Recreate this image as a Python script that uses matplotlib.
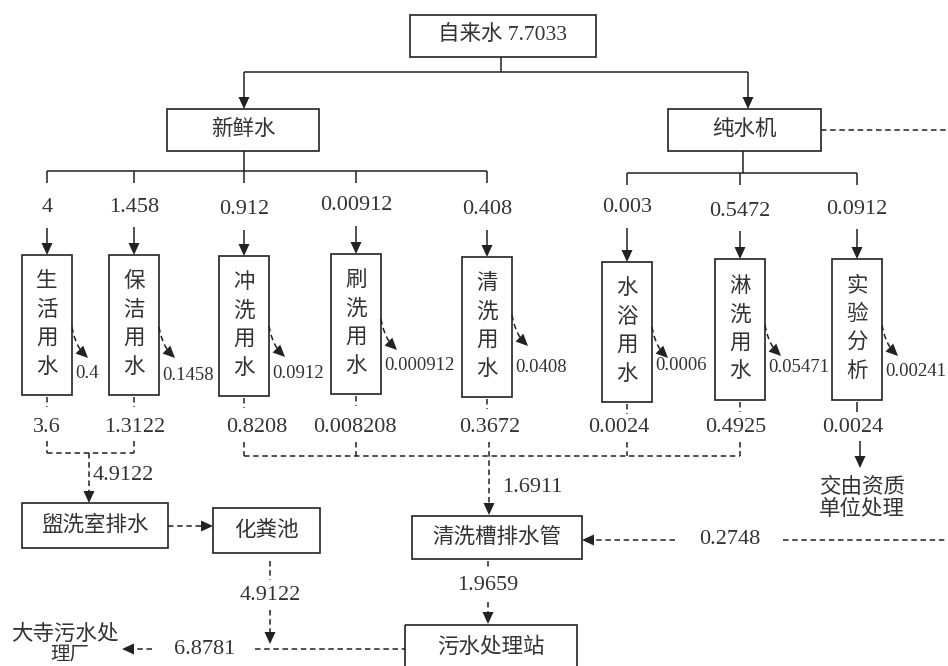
import matplotlib.pyplot as plt
from matplotlib.patches import Rectangle, Polygon
import numpy as np

# flow values (t/d)
tap_total = 7.7033
fresh_names = ["生活用水", "保洁用水", "冲洗用水", "刷洗用水", "清洗用水"]
fresh_in = [4, 1.458, 0.912, 0.00912, 0.408]
fresh_loss = [0.4, 0.1458, 0.0912, 0.000912, 0.0408]
fresh_out = [3.6, 1.3122, 0.8208, 0.008208, 0.3672]
pure_names = ["水浴用水", "淋洗用水", "实验分析"]
pure_in = [0.003, 0.5472, 0.0912]
pure_loss = [0.0006, 0.05471, 0.00241]
pure_out = [0.0024, 0.4925, 0.0024]
washroom_in = 4.9122
septic_out = 4.9122
tank_in = 1.6911
tank_return = 0.2748
tank_out = 1.9659
discharge = 6.8781

FONT = ["Liberation Serif", "Noto Sans CJK SC", "DejaVu Sans"]
TXT = "#333333"
LN = "#222222"
DASH = (0, (3.6, 2.4))

fig = plt.figure(figsize=(9.48, 6.66), dpi=100)
ax = fig.add_axes([0, 0, 1, 1])
ax.set_xlim(0, 948)
ax.set_ylim(666, 0)
ax.axis("off")


def fmt(v):
    return f"{v:g}"


def text(x, y, s, size=15.5, ha="center"):
    ax.text(x, y, s, ha=ha, va="center", fontsize=size, family=FONT, color=TXT)


def line(xs, ys, dashed=False):
    ax.plot(xs, ys, color=LN, lw=1.1, ls=DASH if dashed else "-",
            solid_capstyle="butt")


def head(x0, y0, x1, y1, length=12, half=5.5):
    d = np.array([x1 - x0, y1 - y0], float)
    d /= np.hypot(*d)
    n = np.array([-d[1], d[0]])
    tip = np.array([x1, y1])
    base = tip - d * length
    ax.add_patch(Polygon([tip, base + n * half, base - n * half],
                         closed=True, color=LN, lw=0))


def arrow(x0, y0, x1, y1, dashed=False):
    d = np.array([x1 - x0, y1 - y0], float)
    d /= np.hypot(*d)
    line([x0, x1 - d[0] * 8], [y0, y1 - d[1] * 8], dashed)
    head(x0, y0, x1, y1)


def box(x0, y0, x1, y1, label=None, size=15.5):
    ax.add_patch(Rectangle((x0, y0), x1 - x0, y1 - y0, fill=False,
                           ec=LN, lw=1.2))
    if label:
        text((x0 + x1) / 2, (y0 + y1) / 2, label, size)


def vbox(cx, top, bot, label):
    box(cx - 25, top, cx + 25, bot)
    mid = (top + bot) / 2
    for i, ch in enumerate(label):
        text(cx, mid + (i - 1.5) * 28.5, ch)


def side_loss(x_right, y_start, value, lx, ly):
    t = np.linspace(0, 1, 20)
    p0 = np.array([x_right, y_start])
    p2 = np.array([x_right + 16, y_start + 31])
    p1 = np.array([x_right + 4, y_start + 22])
    pts = ((1 - t)[:, None] ** 2 * p0 + 2 * ((1 - t) * t)[:, None] * p1
           + (t ** 2)[:, None] * p2)
    line(pts[:-4, 0], pts[:-4, 1], dashed=True)
    head(pts[-6, 0], pts[-6, 1], p2[0], p2[1], length=12, half=5.5)
    text(lx, ly, fmt(value), size=13.5, ha="left")


# top source
box(410, 15, 596, 57, f"自来水 {fmt(tap_total)}")
line([501, 501], [57, 72])
line([244, 748], [72, 72])
arrow(244, 72, 244, 109)
arrow(748, 72, 748, 109)
box(167, 109, 319, 151, "新鲜水")
box(668, 109, 821, 151, "纯水机")
line([821, 948], [130, 130], dashed=True)

# branches
fresh_x = [47, 134, 244, 356, 487]
fresh_top = [255, 255, 256, 254, 257]
fresh_bot = [395, 395, 396, 394, 397]
fresh_in_y = [208, 207, 210, 206, 210]
fresh_side_y = [327, 327, 326, 319, 315]
fresh_loss_y = [373, 376, 373, 365, 367]
fresh_out_x = [47, 135, 257, 355, 490]

pure_x = [627, 740, 857]
pure_top = [262, 259, 259]
pure_bot = [402, 400, 400]
pure_in_y = [208, 211, 209]
pure_side_y = [327, 325, 325]
pure_loss_y = [365, 367, 372]
pure_out_x = [619, 736, 853]

line([244, 244], [151, 171])
line([fresh_x[0], fresh_x[-1]], [171, 171])
line([743, 743], [151, 173])
line([pure_x[0], pure_x[-1]], [173, 173])

for xs, tops, bots, iny, sy, ly, ox, names, vin, vloss, vout, ybar in [
    (fresh_x, fresh_top, fresh_bot, fresh_in_y, fresh_side_y, fresh_loss_y,
     fresh_out_x, fresh_names, fresh_in, fresh_loss, fresh_out, 171),
    (pure_x, pure_top, pure_bot, pure_in_y, pure_side_y, pure_loss_y,
     pure_out_x, pure_names, pure_in, pure_loss, pure_out, 173)]:
    for i, cx in enumerate(xs):
        line([cx, cx], [ybar, ybar + 12])
        text(cx, iny[i], fmt(vin[i]), size=16)
        arrow(cx, iny[i] + 20, cx, tops[i])
        vbox(cx, tops[i], bots[i], names[i])
        side_loss(cx + 25, sy[i], vloss[i], cx + 28, ly[i])
        last = names[i] == "实验分析"
        line([cx, cx], [bots[i] + 2, bots[i] + 12], dashed=not last)
        text(ox[i], 428, fmt(vout[i]), size=16)

# left collector -> washroom drain
line([47, 47], [441, 453], dashed=True)
line([134, 134], [441, 453], dashed=True)
line([47, 134], [453, 453], dashed=True)
arrow(89, 453, 89, 503, dashed=True)
text(93, 475, fmt(washroom_in), size=16, ha="left")

# middle collector -> cleaning tank drain
for cx in [244, 356, 627, 740]:
    line([cx, cx], [442, 456], dashed=True)
line([244, 740], [456, 456], dashed=True)
arrow(489, 442, 489, 515, dashed=True)
text(502, 488, fmt(tank_in), size=16, ha="left")

# lab waste
arrow(860, 441, 860, 468)
text(862, 488, "交由资质")
text(862, 510, "单位处理")

# washroom -> septic tank
box(22, 503, 168, 548, "盥洗室排水")
arrow(168, 526, 213, 526, dashed=True)
box(213, 508, 320, 553, "化粪池")
line([270, 270], [561, 580], dashed=True)
text(270, 595, fmt(septic_out), size=16)
arrow(270, 610, 270, 644, dashed=True)

# cleaning tank drain
box(412, 516, 582, 559, "清洗槽排水管")
arrow(675, 540, 582, 540, dashed=True)
text(730, 540, fmt(tank_return), size=16)
line([783, 948], [540, 540], dashed=True)
line([488, 488], [561, 570], dashed=True)
text(488, 585, fmt(tank_out), size=16)
arrow(488, 602, 488, 624, dashed=True)

# treatment station and discharge
box(405, 625, 577, 700, None)
text(491, 648, "污水处理站")
line([255, 405], [649, 649], dashed=True)
text(205, 649, fmt(discharge), size=16)
arrow(152, 649, 122, 649, dashed=True)
text(65, 635, "大寺污水处")
text(70, 655, "理厂", size=14)

fig.savefig("out.png", dpi=100)
